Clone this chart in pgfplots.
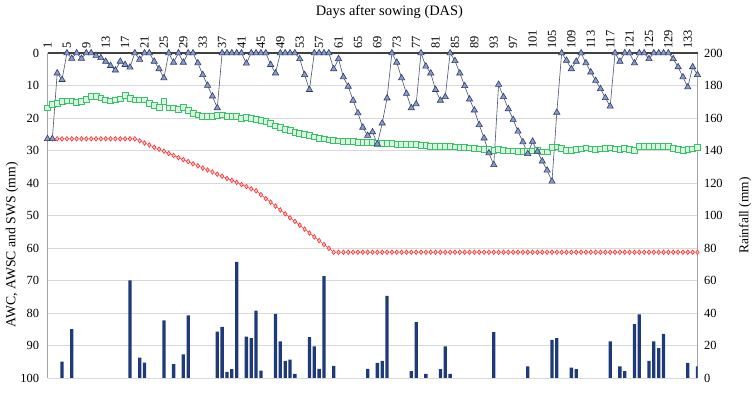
\documentclass[border=0pt]{standalone}
\usepackage{pgfplots}
\pgfplotsset{compat=1.18}
\usepackage{fontspec}
\usepackage{graphicx}
\setmainfont{Liberation Serif}
\definecolor{gridc}{HTML}{D9D9D9}
\definecolor{axc}{HTML}{A6A6A6}
\definecolor{topc}{HTML}{404040}
\definecolor{trifill}{HTML}{8A9CCB}
\definecolor{triedge}{HTML}{2E3B66}
\definecolor{triline}{HTML}{4A5270}
\definecolor{grnedge}{HTML}{3DBE6A}
\definecolor{grnfill}{HTML}{D8F5E0}
\definecolor{rededge}{HTML}{FF3030}
\definecolor{redfill}{HTML}{FFC8C8}
\definecolor{barc}{HTML}{1F3A78}

\pgfplotstableread{
d v
4 10
6 30
18 60
20 12.5
21 9.5
25 35.5
27 8.5
29 14.5
30 38.5
36 28.5
37 31.5
38 3.7
39 5.5
40 71.5
42 25.5
43 24.5
44 41.5
45 4.5
48 39.5
49 22.5
50 10.5
51 11.3
52 2.5
55 25.2
56 19.4
57 5.6
58 62.7
60 7.4
67 5.6
69 9.3
70 10.5
71 50.5
76 4.3
77 34.4
79 2.5
82 5.4
83 19.4
84 2.5
93 28.2
100 7.2
105 23.5
106 24.5
109 6.4
110 5.4
117 22.5
119 7.2
120 4.3
122 33.2
123 39.2
125 10.5
126 22.5
127 18.4
128 27.2
133 9.3
135 7.2
}\rain

\pgfplotstableread{
d v
1 26.4
2 26.4
3 6.2
4 8.2
5 0
6 1.7
7 0
8 1.7
9 0
10 0
11 0.8
12 1.5
13 2.6
14 3.9
15 5.3
16 2.6
17 3.6
18 4.4
19 0
20 2
21 0
22 0
23 2.6
24 4.9
25 7.7
26 0
27 2.9
28 0
29 2.9
30 0
31 0
32 3.1
33 6.7
34 10
35 13.3
36 16.9
37 0
38 0
39 0
40 0
41 0
42 3.2
43 0
44 0
45 0
46 0
47 3.6
48 6.2
49 0
50 0
51 0
52 0
53 1.8
54 6.7
55 11.3
56 0
57 0
58 0
59 0
60 4.9
61 1.8
62 7.4
63 10.3
64 14.6
65 18.5
66 22.9
67 25.4
68 24.3
69 28
70 21.6
71 13.9
72 0
73 2.9
74 7.7
75 12.5
76 16.9
77 15.7
78 0
79 4.1
80 6.2
81 11.3
82 14.6
83 13.5
84 0
85 2.4
86 6.2
87 10.1
88 14.2
89 17.6
90 22.1
91 26.2
92 30.8
93 34.4
94 9.7
95 13.5
96 17.2
97 20.5
98 24.1
99 27.4
100 31
101 27.2
102 30.3
103 33.3
104 36.1
105 39.5
106 18.3
107 0
108 2.3
109 4.9
110 2.6
111 0
112 3.1
113 5.9
114 8.5
115 11
116 13.8
117 16.4
118 0
119 2.6
120 0
121 0
122 3.1
123 0
124 0
125 1.8
126 0
127 0
128 0
129 0
130 1.8
131 4.3
132 7.4
133 10.5
134 4.3
135 6.7
}\sws

\pgfplotstableread{
d v
1 16.9
2 15.9
3 15.4
4 14.9
5 14.7
6 14.7
7 15.1
8 14.9
9 14.2
10 13.3
11 13.3
12 13.8
13 14.4
14 14.7
15 14.4
16 14.1
17 13.1
18 13.9
19 14.4
20 14.4
21 14.4
22 15.4
23 16.2
24 16.6
25 14.9
26 16.9
27 16.9
28 17.4
29 16.6
30 17.6
31 18.5
32 19
33 19.5
34 19.5
35 19.5
36 19.2
37 19
38 19.5
39 19.5
40 19.5
41 20
42 19.8
43 20
44 20.5
45 20.8
46 21
47 21.7
48 22.4
49 22.8
50 23.4
51 23.9
52 24.4
53 24.8
54 25.1
55 25.4
56 25.8
57 26.2
58 26.4
59 26.7
60 26.9
61 27
62 27.1
63 27.2
64 27.3
65 27.4
66 27.5
67 27.6
68 27.6
69 27.9
70 27.7
71 27.7
72 27.9
73 28.1
74 28.2
75 28.2
76 28.1
77 28.1
78 28.3
79 28.5
80 28.7
81 28.6
82 28.6
83 28.7
84 28.8
85 28.9
86 29.0
87 29.1
88 29.2
89 29.3
90 29.5
91 29.7
92 29.5
93 29.9
94 29.7
95 29.9
96 30.1
97 30.1
98 30.2
99 30.3
100 30.1
101 30.1
102 29.9
103 30.4
104 30.4
105 29.0
106 28.9
107 29.3
108 29.9
109 29.9
110 29.7
111 29.5
112 29.2
113 29.5
114 29.7
115 29.5
116 29.3
117 29.2
118 29.5
119 29.6
120 29.3
121 29.7
122 29.9
123 28.7
124 28.7
125 28.7
126 28.7
127 28.7
128 28.7
129 28.7
130 29.3
131 29.7
132 29.9
133 29.7
134 29.5
135 29.0
}\awsc

\pgfplotstableread{
d v
1 26.4
2 26.4
3 26.4
4 26.4
5 26.4
6 26.4
7 26.4
8 26.4
9 26.4
10 26.4
11 26.4
12 26.4
13 26.4
14 26.4
15 26.4
16 26.4
17 26.4
18 26.4
19 26.4
20 27.0
21 27.7
22 28.3
23 29.0
24 29.6
25 30.2
26 30.9
27 31.5
28 32.2
29 32.8
30 33.4
31 34.1
32 34.7
33 35.4
34 36.0
35 36.6
36 37.3
37 37.9
38 38.6
39 39.2
40 39.8
41 40.5
42 41.1
43 41.8
44 42.4
45 43.6
46 44.8
47 45.9
48 47.1
49 48.3
50 49.5
51 50.7
52 51.8
53 53.0
54 54.2
55 55.4
56 56.6
57 57.7
58 58.9
59 60.1
60 61.3
61 61.3
62 61.3
63 61.3
64 61.3
65 61.3
66 61.3
67 61.3
68 61.3
69 61.3
70 61.3
71 61.3
72 61.3
73 61.3
74 61.3
75 61.3
76 61.3
77 61.3
78 61.3
79 61.3
80 61.3
81 61.3
82 61.3
83 61.3
84 61.3
85 61.3
86 61.3
87 61.3
88 61.3
89 61.3
90 61.3
91 61.3
92 61.3
93 61.3
94 61.3
95 61.3
96 61.3
97 61.3
98 61.3
99 61.3
100 61.3
101 61.3
102 61.3
103 61.3
104 61.3
105 61.3
106 61.3
107 61.3
108 61.3
109 61.3
110 61.3
111 61.3
112 61.3
113 61.3
114 61.3
115 61.3
116 61.3
117 61.3
118 61.3
119 61.3
120 61.3
121 61.3
122 61.3
123 61.3
124 61.3
125 61.3
126 61.3
127 61.3
128 61.3
129 61.3
130 61.3
131 61.3
132 61.3
133 61.3
134 61.3
135 61.3
}\awc

\begin{document}
\begin{tikzpicture}
% Rainfall axis (drawn first, with grid)
\begin{axis}[
  scale only axis, width=650bp, height=325bp,
  at={(0,0)}, anchor=south west,
  xmin=1, xmax=135, ymin=0, ymax=200,
  enlargelimits=false,
  separate axis lines,
  x axis line style={draw=none},
  y axis line style={draw=axc, line width=0.8pt},
  xticklabel pos=upper, yticklabel pos=upper,
  ytick={0,20,...,200},
  ymajorgrids, grid style={draw=gridc, line width=0.7pt},
  xtick={1,5,...,133},
  xticklabel={\rotatebox{90}{\pgfmathprintnumber{\tick}}},
  major tick length=0pt,
  /pgf/number format/assume math mode=true,
  tick label style={font=\fontsize{12.5}{14}\selectfont, text=black},
  xticklabel style={anchor=south, yshift=0.5bp},
  yticklabel style={xshift=3bp},
  ylabel={Rainfall (mm)},
  ylabel style={at={(axis description cs:1.073,0.5)}, anchor=center, font=\fontsize{13.5}{15}\selectfont},
  xlabel={Days after sowing (DAS)},
  xlabel style={at={(axis description cs:0.526,1.126)}, anchor=center, font=\fontsize{14.5}{16}\selectfont},
  ybar, bar width=3.3bp,
]
\addplot[fill=barc, draw=none] table[x=d, y=v] {\rain};
\end{axis}
% Water axis (reversed)
\begin{axis}[
  scale only axis, width=650bp, height=325bp,
  at={(0,0)}, anchor=south west,
  xmin=1, xmax=135, ymin=0, ymax=100, y dir=reverse,
  enlargelimits=false, clip=false,
  axis line style={draw=none},
  xtick=\empty,
  ytick={0,10,...,100},
  major tick length=0pt,
  extra y ticks={0}, extra y tick labels={},
  extra y tick style={grid=major, major grid style={draw=topc, line width=1.2pt}},
  /pgf/number format/assume math mode=true,
  tick label style={font=\fontsize{12.5}{14}\selectfont, text=black},
  yticklabel style={xshift=-5bp},
  ylabel={AWC, AWSC and SWS (mm)},
  ylabel style={at={(axis description cs:-0.0546,0.41)}, anchor=center, font=\fontsize{13.8}{15}\selectfont},
]
\addplot[draw=grnedge, line width=0.6pt, mark=square*, mark size=2.9bp,
  mark options={fill=grnfill, draw=grnedge, line width=0.7pt}] table[x=d, y=v] {\awsc};
\addplot[draw=rededge, line width=0.5pt, mark=diamond*, mark size=2.3bp,
  mark options={fill=redfill, draw=rededge, line width=0.6pt}] table[x=d, y=v] {\awc};
\addplot[draw=triline, line width=0.6pt, mark=triangle*, mark size=3.6bp,
  mark options={fill=trifill, draw=triedge, line width=0.6pt}] table[x=d, y=v] {\sws};
\end{axis}
\pgfresetboundingbox
\path (-47.5bp,-19bp) rectangle (706.5bp,378bp);
\end{tikzpicture}
\end{document}
